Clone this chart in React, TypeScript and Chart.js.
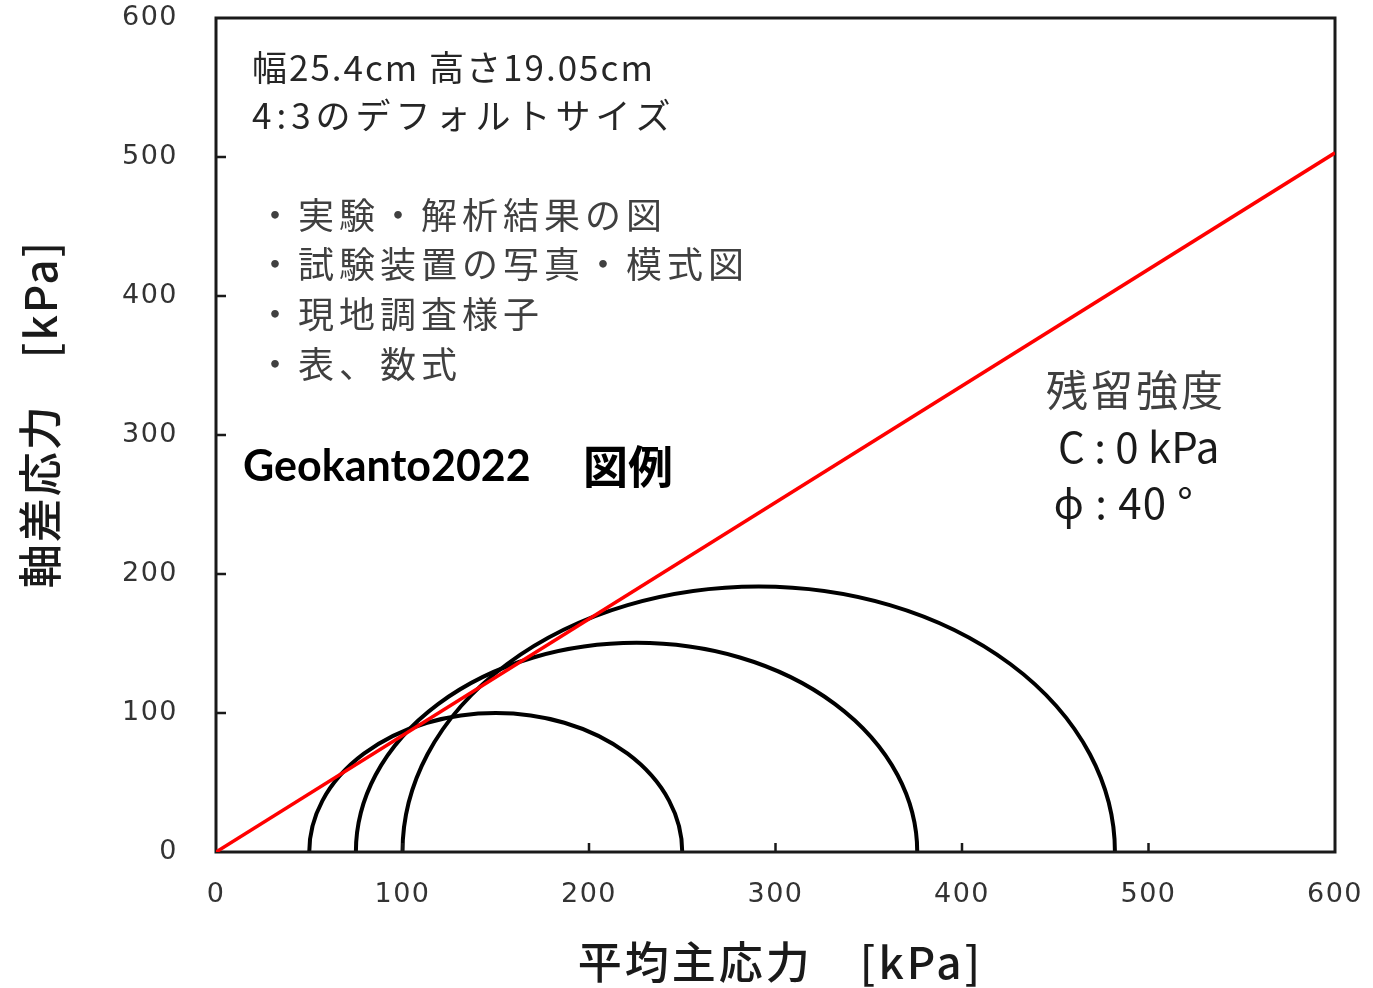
import React, { useEffect, useRef } from "react";
import { Chart, registerables } from "chart.js";

Chart.register(...registerables);

// ---- data ----
const xTickValues = [0, 100, 200, 300, 400, 500, 600];
const yTickValues = [0, 100, 200, 300, 400, 500, 600];
// Mohr circles: minor (left) and major (right) principal stress ends
const circleLeft = [50, 75, 100];
const circleRight = [250, 376, 482];
// residual strength failure line (c = 0 kPa, phi = 40°)
const failureLineX = [0, 600];
const failureLineY = [0, 503];

const xAxisTitle = "平均主応力　[kPa]";
const yAxisTitle = "軸差応力　[kPa]";

const noteLines = ["幅25.4cm 高さ19.05cm", "4:3のデフォルトサイズ"];
const noteLinesY = [564, 530];
const bulletLines = ["・実験・解析結果の図", "・試験装置の写真・模式図", "・現地調査様子", "・表、数式"];
const bulletLinesY = [458, 423, 387, 351];
const strengthLines = ["残留強度", "C : 0 kPa", "ϕ : 40 °"];
const strengthLinesX = [445, 451.5, 449];
const strengthLinesY = [332, 291, 251];

const CJK = '"Noto Sans CJK JP", "Noto Sans", sans-serif';
const noteSpacing = ["2px", "5px"];
const strengthSpacing = ["3px", "0px", "1px"];

const overlayPlugin = {
  id: "overlay",
  beforeDraw(chart: any) {
    (chart.ctx as any).letterSpacing = "1.5px";
  },
  beforeDatasetsDraw(chart: any) {
    const { ctx, chartArea, scales } = chart;
    (ctx as any).letterSpacing = "0px";
    const xs = scales.x;
    const ys = scales.y;
    // Mohr semicircles
    ctx.save();
    ctx.strokeStyle = "#000";
    ctx.lineWidth = 4;
    for (let i = 0; i < circleLeft.length; i++) {
      const c = (circleLeft[i] + circleRight[i]) / 2;
      const r = (circleRight[i] - circleLeft[i]) / 2;
      const cx = xs.getPixelForValue(c);
      const cy = ys.getPixelForValue(0);
      const rx = xs.getPixelForValue(c + r) - cx;
      const ry = cy - ys.getPixelForValue(r);
      ctx.beginPath();
      ctx.ellipse(cx, cy, rx, ry, 0, Math.PI, 2 * Math.PI);
      ctx.stroke();
    }
    ctx.restore();

    // frame
    ctx.save();
    ctx.strokeStyle = "#1a1a1a";
    ctx.lineWidth = 3;
    ctx.strokeRect(chartArea.left, chartArea.top, chartArea.right - chartArea.left, chartArea.bottom - chartArea.top);
    // inside tick marks
    ctx.lineWidth = 2.5;
    ctx.beginPath();
    xTickValues.slice(1, -1).forEach((v) => {
      const px = xs.getPixelForValue(v);
      ctx.moveTo(px, chartArea.bottom);
      ctx.lineTo(px, chartArea.bottom - 9);
    });
    yTickValues.slice(1, -1).forEach((v) => {
      const py = ys.getPixelForValue(v);
      ctx.moveTo(chartArea.left, py);
      ctx.lineTo(chartArea.left + 10, py);
    });
    ctx.stroke();
    ctx.restore();
  },
  afterDraw(chart: any) {
    const { ctx, chartArea, scales } = chart;
    const xs = scales.x;
    const ys = scales.y;
    ctx.save();
    ctx.textBaseline = "middle";
    ctx.textAlign = "left";

    ctx.fillStyle = "#262626";
    ctx.font = `35px ${CJK}`;
    noteLines.forEach((t, i) => {
      (ctx as any).letterSpacing = noteSpacing[i];
      ctx.fillText(t, xs.getPixelForValue(19.3), ys.getPixelForValue(noteLinesY[i]));
    });

    ctx.fillStyle = "#404040";
    ctx.font = `36px ${CJK}`;
    (ctx as any).letterSpacing = "5px";
    bulletLines.forEach((t, i) => ctx.fillText(t, xs.getPixelForValue(22), ys.getPixelForValue(bulletLinesY[i])));

    ctx.fillStyle = "#000";
    (ctx as any).letterSpacing = "0px";
    ctx.font = `bold 43px Lato, "Open Sans", sans-serif`;
    ctx.fillText("Geokanto2022", xs.getPixelForValue(14.5), ys.getPixelForValue(277));
    ctx.font = `bold 45px ${CJK}`;
    ctx.fillText("図例", xs.getPixelForValue(196.8), ys.getPixelForValue(277));

    strengthLines.forEach((t, i) => {
      ctx.fillStyle = i === 0 ? "#404040" : "#1a1a1a";
      ctx.font = `42px ${CJK}`;
      (ctx as any).letterSpacing = strengthSpacing[i];
      ctx.fillText(t, xs.getPixelForValue(strengthLinesX[i]), ys.getPixelForValue(strengthLinesY[i]));
    });

    // axis titles
    ctx.fillStyle = "#1a1a1a";
    ctx.font = `500 44px ${CJK}`;
    ctx.textAlign = "center";
    (ctx as any).letterSpacing = "3px";
    ctx.fillText(xAxisTitle, (chartArea.left + chartArea.right) / 2 + 5, 962);
    ctx.save();
    (ctx as any).letterSpacing = "2px";
    ctx.translate(40, 414);
    ctx.rotate(-Math.PI / 2);
    ctx.fillText(yAxisTitle, 0, 0);
    ctx.restore();
    (ctx as any).letterSpacing = "0px";
    ctx.restore();
  },
};

export default function App() {
  const canvasRef = useRef<HTMLCanvasElement | null>(null);

  useEffect(() => {
    document.body.style.margin = "0";
    const canvas = canvasRef.current;
    if (!canvas) return;
    const tickFont = { family: "DejaVu Sans", size: 27 };
    const chart = new Chart(canvas, {
      type: "scatter",
      data: {
        datasets: [
          {
            label: "破壊線",
            data: failureLineX.map((x, i) => ({ x, y: failureLineY[i] })),
            showLine: true,
            borderColor: "#ff0000",
            borderWidth: 3.5,
            pointRadius: 0,
            fill: false,
          },
        ],
      },
      options: {
        responsive: false,
        animation: false,
        events: [],
        layout: { padding: { top: 18, right: 38, left: 0, bottom: 0 } },
        plugins: {
          legend: { display: false },
          tooltip: { enabled: false },
          title: { display: false },
        },
        scales: {
          x: {
            type: "linear",
            min: 0,
            max: 600,
            afterBuildTicks: (s: any) => {
              s.ticks = xTickValues.map((v) => ({ value: v }));
            },
            ticks: {
              color: "#333",
              font: tickFont,
              padding: 27,
              maxRotation: 0,
              autoSkip: false,
            },
            grid: { display: false, drawTicks: false },
            border: { display: false },
            afterFit: (s: any) => {
              s.height = 136;
              s.paddingLeft = 0;
              s.paddingRight = 0;
            },
          },
          y: {
            type: "linear",
            min: 0,
            max: 600,
            afterBuildTicks: (s: any) => {
              s.ticks = yTickValues.map((v) => ({ value: v }));
            },
            ticks: {
              color: "#333",
              font: tickFont,
              padding: 38,
              autoSkip: false,
            },
            grid: { display: false, drawTicks: false },
            border: { display: false },
            afterFit: (s: any) => {
              s.width = 216;
              s.paddingTop = 0;
              s.paddingBottom = 0;
            },
          },
        },
      },
      plugins: [overlayPlugin],
    });
    return () => chart.destroy();
  }, []);

  return (
    <div style={{ width: 1373, height: 988, background: "#fff" }}>
      <canvas ref={canvasRef} width={1373} height={988} style={{ display: "block" }} />
    </div>
  );
}
